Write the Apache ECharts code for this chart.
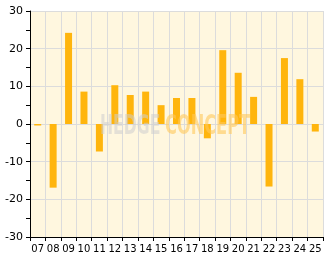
<!DOCTYPE html>
<html><head><meta charset="utf-8">
<script src="https://cdn.jsdelivr.net/npm/echarts@6/dist/echarts.min.js"></script>
<style>html,body{margin:0;padding:0;background:#fff}#c{width:332px;height:269px}</style>
</head><body><div id="c"></div>
<script>
var categories = ['07','08','09','10','11','12','13','14','15','16','17','18','19','20','21','22','23','24','25'];
var values = [-0.4, -16.9, 24.2, 8.6, -7.3, 10.3, 7.7, 8.6, 5.0, 6.9, 6.9, -3.8, 19.6, 13.6, 7.2, -16.6, 17.5, 11.9, -2.0];
var yTicks = { min: -30, max: 30, interval: 10 };

var chart = echarts.init(document.getElementById('c'), null, {renderer: 'canvas'});
var font = 'DejaVu Sans';
chart.setOption({
  animation: false,
  backgroundColor: '#ffffff',
  grid: { left: 30, right: 9, top: 11, bottom: 32, show: true, backgroundColor: '#fff7df', borderWidth: 0 },
  xAxis: {
    type: 'category', data: categories, boundaryGap: true,
    axisLine: { show: true, onZero: false, lineStyle: { color: '#000', width: 1 } },
    axisTick: { show: true, length: 4, lineStyle: { color: '#000' } },
    axisLabel: { color: '#000', fontFamily: font, fontSize: 10, margin: 7, interval: 0 },
    splitLine: { show: true, lineStyle: { color: '#dcdcdc', width: 1 } }
  },
  yAxis: {
    type: 'value', min: yTicks.min, max: yTicks.max, interval: yTicks.interval,
    axisLine: { show: true, lineStyle: { color: '#000', width: 1 } },
    axisTick: { show: true, length: 4, lineStyle: { color: '#000' } },
    minorTick: { show: true, splitNumber: 2, length: 4, lineStyle: { color: '#000' } },
    axisLabel: { color: '#000', fontFamily: font, fontSize: 11, margin: 7 },
    splitLine: { show: true, lineStyle: { color: '#dcdcdc', width: 1 } }
  },
  series: [{
    type: 'bar', data: values, barWidth: 7,
    itemStyle: { color: '#ffb50d' }
  }],
  graphic: [
    { type: 'text', x: 100, y: 113, z: 100, scaleX: 0.58, originX: 0,
      style: { text: 'HEDGE', font: 'bold 27px "DejaVu Sans", sans-serif', fill: 'rgba(205,205,205,0.55)' } },
    { type: 'text', x: 165, y: 113, z: 100, scaleX: 0.6, originX: 0,
      style: { text: 'CONCEPT', font: 'bold 27px "DejaVu Sans", sans-serif', fill: 'rgba(255,200,90,0.6)' } }
  ]
});
</script></body></html>
